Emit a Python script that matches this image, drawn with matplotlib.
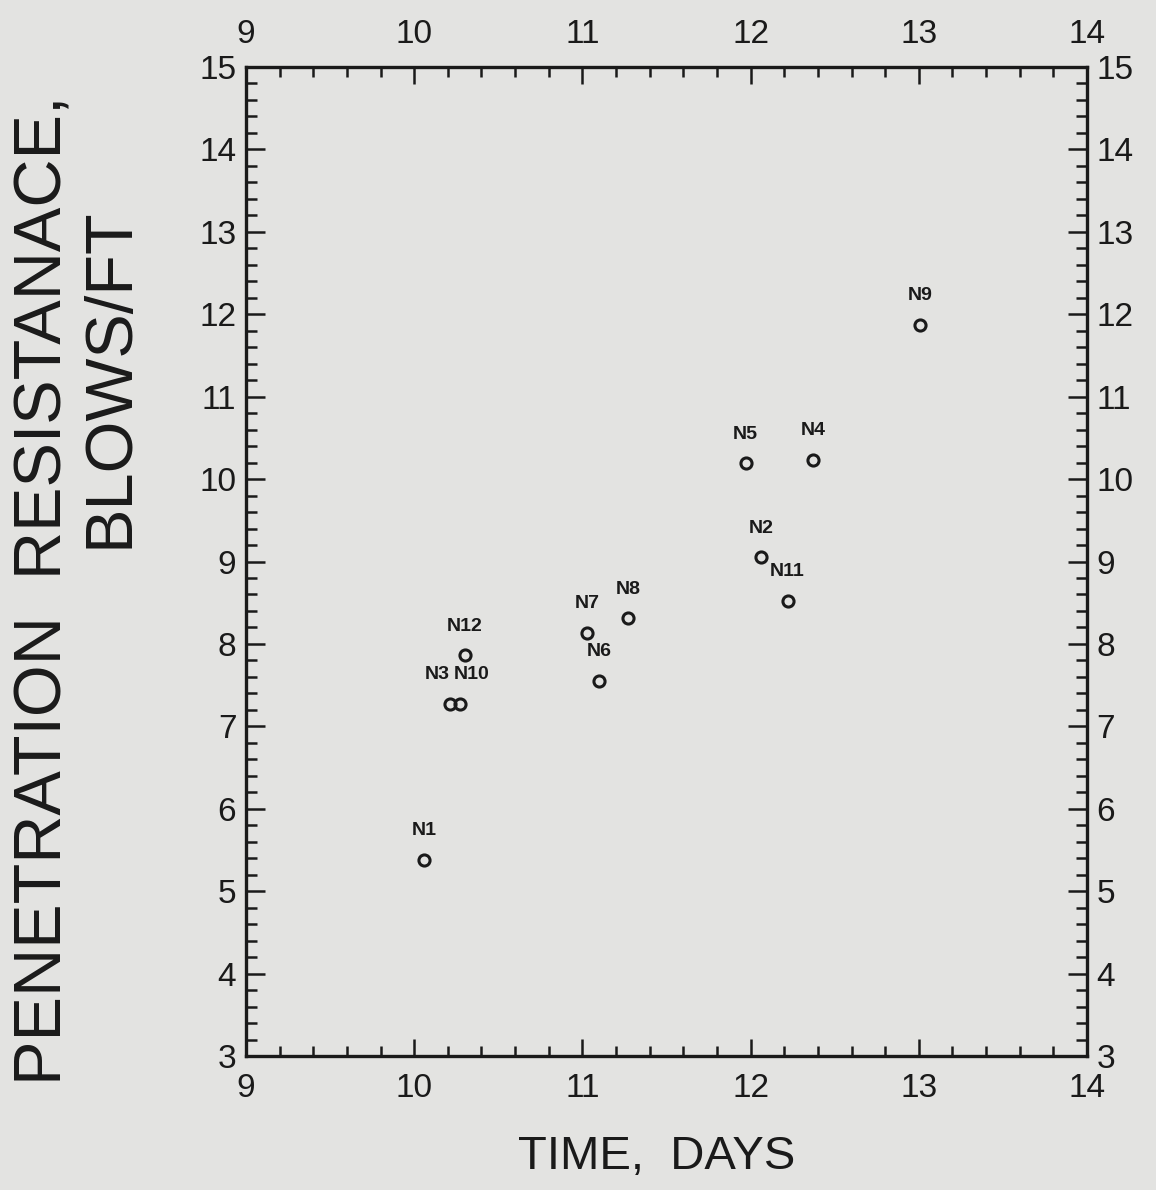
import matplotlib
matplotlib.use("Agg")
import matplotlib.pyplot as plt
from matplotlib.ticker import MultipleLocator

# blow counts
labels = ["N1", "N3", "N10", "N12", "N7", "N6", "N8", "N5", "N4", "N2", "N11", "N9"]
days = [10.06, 10.21, 10.27, 10.30, 11.03, 11.10, 11.27, 11.97, 12.37, 12.06, 12.22, 13.01]
blows = [5.38, 7.27, 7.27, 7.86, 8.13, 7.55, 8.31, 10.19, 10.23, 9.05, 8.52, 11.87]
# N3 and N10 sit on top of each other, nudge their tags apart
nudge = {"N3": -9, "N10": 9}

BG = "#e3e3e1"
INK = "#1a1a1a"

plt.rcParams["font.family"] = ["Liberation Sans", "DejaVu Sans"]

fig = plt.figure(figsize=(11.56, 11.9), dpi=100, facecolor=BG)
ax = fig.add_axes([246 / 1156, 1 - 1056 / 1190, 841 / 1156, 989 / 1190])
ax.set_facecolor(BG)

ax.plot(days, blows, "o", ms=8, mfc="none", mec=INK, mew=2.2)
for lab, x, y in zip(labels, days, blows):
    ax.annotate(lab, (x, y), xytext=(nudge.get(lab, 0), 15),
                textcoords="offset points", ha="center", va="bottom",
                fontsize=14, fontweight="bold", color=INK)

ax.set_xlim(9, 14)
ax.set_ylim(3, 15)
ax.xaxis.set_major_locator(MultipleLocator(1))
ax.xaxis.set_minor_locator(MultipleLocator(0.2))
ax.yaxis.set_major_locator(MultipleLocator(1))
ax.yaxis.set_minor_locator(MultipleLocator(0.2))

ax.tick_params(which="both", direction="in", top=True, right=True,
               labeltop=True, labelright=True, colors=INK, width=1.8)
ax.tick_params(axis="x", which="major", length=12, labelsize=24, pad=12)
ax.tick_params(axis="x", which="minor", length=7)
ax.tick_params(axis="y", which="major", length=14, labelsize=24, pad=7)
ax.tick_params(axis="y", which="minor", length=8)
for s in ax.spines.values():
    s.set_linewidth(2.4)
    s.set_color(INK)

fig.text(657 / 1156, 1 - 1157 / 1190, "TIME,  DAYS", fontsize=34,
         color=INK, ha="center", va="center")
fig.text(45 / 1156, 1 - 590 / 1190, "PENETRATION  RESISTANACE,", fontsize=48,
         color=INK, rotation=90, ha="center", va="center")
fig.text(110 / 1156, 1 - 378 / 1190, "BLOWS/FT", fontsize=48,
         color=INK, rotation=90, ha="center", va="center")

fig.savefig("out.png", dpi=100, facecolor=BG)
